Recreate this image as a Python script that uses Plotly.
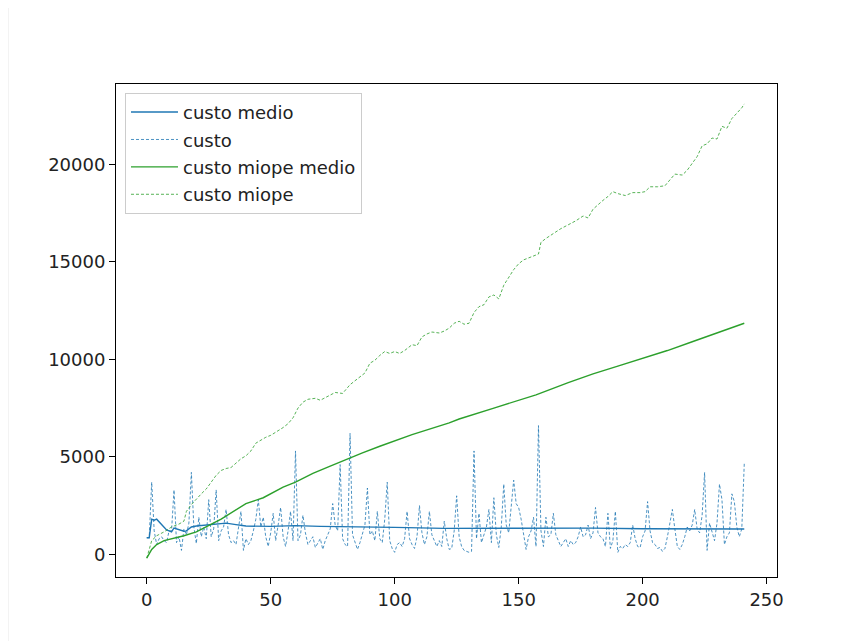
import plotly.graph_objects as go

# ---- data ----
custo = [
    850, 850, 3700, 1200, 500, 800, 900, 700, 600, 1200,
    1200, 3300, 600, 900, 200, 1300, 1000, 1600, 4200, 1400,
    550, 1900, 900, 1400, 800, 2800, 900, 1300, 3300, 700,
    1200, 1400, 2300, 1000, 600, 700, 500, 1500, 2200, 200,
    800, 500, 700, 1200, 1800, 2800, 1400, 1900, 900, 400,
    1100, 2100, 700, 1500,
    2400, 900, 400, 1200, 2200, 700, 5300, 700, 1000, 2000,
    1100, 500, 700, 900, 350, 600, 800, 250, 700, 1000,
    1300, 2600, 1500, 1200, 4600, 800, 500, 400, 6200, 1000,
    600, 250, 600, 1100, 1500, 3400, 1000, 1200, 700, 2200,
    800, 600, 1800, 3700, 700, 300, 100, 500, 600, 400,
    800, 2200, 800, 500, 300, 900, 2500, 1100, 500, 900,
    2200, 1000, 700, 400,
    700, 400, 1700, 800, 250, 300, 1200, 3000, 900, 400,
    200, 150, 100, 150, 5300, 800, 2100, 600, 1000, 1400,
    2300, 600, 2900, 1000, 350, 1400, 3600, 1500, 1100, 2500,
    3800, 2600, 2400, 1800, 900, 250, 900, 1200, 1900, 400,
    6600, 1200, 400, 1900, 900, 1000, 2100, 1000, 700, 400,
    600, 800, 400, 700, 500, 600, 900, 1400, 900, 1000,
    1500, 800, 1100, 2400, 1100, 900, 800, 400,
    2100, 300, 700, 2200, 100, 400, 300, 500, 400, 600,
    1500, 800, 400, 350, 900, 1200, 2700, 1200, 600, 500,
    300, 350, 150, 300, 900, 1600, 2300, 1300, 400, 250,
    500, 900, 1400, 1200, 1500, 2300, 1300, 1100, 2000, 4200,
    200, 1600, 1100, 700, 1600, 3600, 2800, 500, 900, 1100,
    3100, 2700, 1400, 900, 1300, 4650,
]
custo_x = list(range(len(custo)))

custo_medio_x = [0, 1, 2, 3, 4, 5, 6, 7, 8, 9, 10, 11, 12, 13, 14, 15, 16, 18, 20, 24,
                 28, 32, 36, 40, 50, 60, 70, 80, 90, 100, 120, 140, 160, 180, 200, 220, 241]
custo_medio = [850, 850, 1800, 1750, 1800, 1650, 1500, 1400, 1250, 1200, 1150, 1350, 1300,
               1250, 1200, 1180, 1200, 1400, 1450, 1500, 1580, 1600, 1520, 1450, 1430, 1470,
               1430, 1420, 1400, 1380, 1330, 1340, 1360, 1340, 1310, 1290, 1300]

miope_x = [0, 2, 4, 7, 10, 13, 15, 16, 18, 20, 22, 24, 26, 28, 30, 32, 34, 36, 38, 40,
           42, 44, 46, 48, 50, 52, 55, 57, 59, 61, 63, 65, 68, 70, 73, 76, 79, 82, 85, 88,
           90, 92, 94, 96, 98, 100, 102, 104, 107, 109, 111, 113, 115, 118, 120, 122, 124,
           126, 128, 130, 132, 134, 136, 138, 140, 142, 144, 146, 148, 150, 152, 154, 156,
           158, 159, 161, 164, 167, 170, 173, 176, 178, 180, 182, 184, 186, 188, 190, 193,
           196, 199, 201, 203, 206, 209, 211, 213, 216, 218, 220, 222, 224, 226, 228, 230,
           232, 234, 236, 238, 240, 241]
custo_miope = [-200, 700, 950, 1150, 1400, 1550, 1700, 2200, 2550, 2850, 3100, 3350, 3700,
               4050, 4300, 4400, 4450, 4700, 4900, 5050, 5300, 5700, 5850, 6000, 6100, 6250,
               6500, 6700, 7000, 7500, 7800, 7950, 8000, 7900, 8100, 8300, 8250, 8700, 9000,
               9300, 9800, 9950, 10200, 10400, 10300, 10400, 10300, 10450, 10750, 10700,
               11150, 11300, 11400, 11350, 11450, 11600, 11850, 11950, 11800, 11850, 12400,
               12700, 12800, 13200, 13300, 13100, 13800, 14200, 14600, 14900, 15100, 15200,
               15300, 15400, 16000, 16200, 16450, 16700, 16900, 17100, 17350, 17250, 17700,
               17950, 18150, 18350, 18600, 18500, 18400, 18550, 18550, 18600, 18850, 18850,
               18900, 19200, 19500, 19450, 19700, 20050, 20400, 20950, 21050, 21350, 21300,
               21950, 21850, 22350, 22600, 22900, 23100]

miope_medio_x = [0, 2, 4, 7, 15, 20, 30, 40, 47, 55, 60, 67, 74, 80, 87, 94, 100, 107, 122,
                 126, 140, 157, 170, 180, 190, 200, 210, 220, 230, 241]
custo_miope_medio = [-200, 250, 500, 700, 950, 1150, 1800, 2600, 2900, 3450, 3700, 4150,
                     4520, 4850, 5200, 5540, 5800, 6140, 6740, 6940, 7500, 8180, 8800, 9250,
                     9650, 10050, 10450, 10900, 11350, 11850]

x_ticks = [0, 50, 100, 150, 200, 250]
x_tick_labels = ["0", "50", "100", "150", "200", "250"]
y_ticks = [0, 5000, 10000, 15000, 20000]
y_tick_labels = ["0", "5000", "10000", "15000", "20000"]

BLUE = "#1f77b4"
GREEN = "#2ca02c"
FONT = "DejaVu Sans"
FS = 18

fig = go.Figure()
fig.add_trace(go.Scatter(x=custo_medio_x, y=custo_medio, mode="lines", name="custo medio",
                         line=dict(color=BLUE, width=1.4), legendgroup="a"))
fig.add_trace(go.Scatter(x=custo_x, y=custo, mode="lines", name="custo",
                         line=dict(color=BLUE, width=0.8, dash="3px,2px"), legendgroup="b"))
fig.add_trace(go.Scatter(x=miope_medio_x, y=custo_miope_medio, mode="lines", name="custo miope medio",
                         line=dict(color=GREEN, width=1.4), legendgroup="c"))
fig.add_trace(go.Scatter(x=miope_x, y=custo_miope, mode="lines", name="custo miope",
                         line=dict(color=GREEN, width=0.8, dash="3px,2px"), legendgroup="d"))

axis_common = dict(showline=True, linecolor="black", linewidth=1, mirror=True,
                   ticks="outside", ticklen=6, tickcolor="black", tickwidth=1,
                   showgrid=False, zeroline=False,
                   tickfont=dict(family=FONT, size=FS, color="#222222"))

fig.update_layout(
    width=848, height=641,
    margin=dict(l=108, r=79, t=76, b=72),
    paper_bgcolor="white", plot_bgcolor="white",
    font=dict(family=FONT, size=FS, color="#222222"),
    xaxis=dict(range=[-12.4, 254.2], tickvals=x_ticks, ticktext=x_tick_labels, **axis_common),
    yaxis=dict(range=[-1165, 24121], tickvals=y_ticks, ticktext=y_tick_labels, **axis_common),
    legend=dict(x=0.0136, y=0.982, xanchor="left", yanchor="top",
                bgcolor="rgba(255,255,255,0.8)", bordercolor="#cccccc", borderwidth=1,
                font=dict(family=FONT, size=FS, color="#222222"),
                tracegroupgap=1, itemwidth=47,
                entrywidth=200, entrywidthmode="pixels"),
    showlegend=True,
    shapes=[dict(type="line", xref="paper", yref="paper", x0=-0.1634, x1=-0.1634,
                 y0=-0.2, y1=1.2, line=dict(color="#e6e6e6", width=1))],
)

fig.write_html("out.html")
